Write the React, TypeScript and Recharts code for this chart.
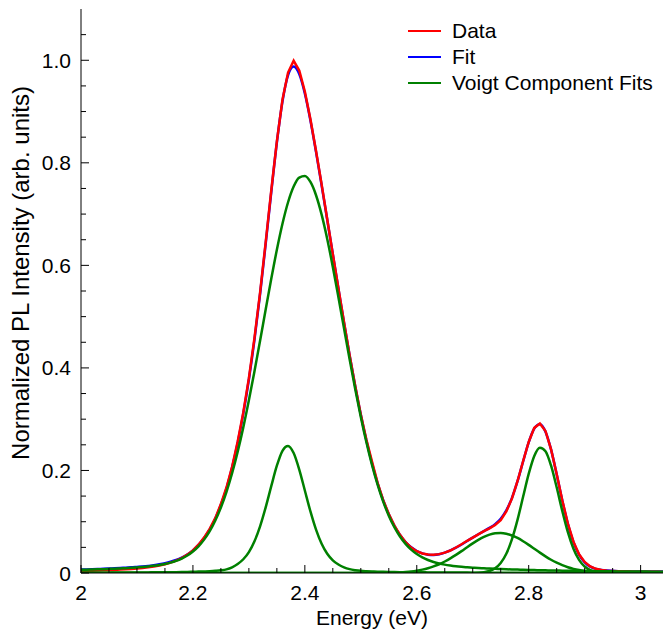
import React from 'react';
import { LineChart, Line, XAxis, YAxis } from 'recharts';

const energy = [
  2.00, 2.01, 2.02, 2.03, 2.04, 2.05, 2.06, 2.07, 2.08, 2.09,
  2.10, 2.11, 2.12, 2.13, 2.14, 2.15, 2.16, 2.17, 2.18, 2.19,
  2.20, 2.21, 2.22, 2.23, 2.24, 2.25, 2.26, 2.27, 2.28, 2.29,
  2.30, 2.31, 2.32, 2.33, 2.34, 2.35, 2.36, 2.37, 2.38, 2.39,
  2.40, 2.41, 2.42, 2.43, 2.44, 2.45, 2.46, 2.47, 2.48, 2.49,
  2.50, 2.51, 2.52, 2.53, 2.54, 2.55, 2.56, 2.57, 2.58, 2.59,
  2.60, 2.61, 2.62, 2.63, 2.64, 2.65, 2.66, 2.67, 2.68, 2.69,
  2.70, 2.71, 2.72, 2.73, 2.74, 2.75, 2.76, 2.77, 2.78, 2.79,
  2.80, 2.81, 2.82, 2.83, 2.84, 2.85, 2.86, 2.87, 2.88, 2.89,
  2.90, 2.91, 2.92, 2.93, 2.94, 2.95, 2.96, 2.97, 2.98, 2.99,
  3.00, 3.01, 3.02, 3.03, 3.04,
];

const measured = [
  0.0040, 0.0042, 0.0045, 0.0047, 0.0052, 0.0056, 0.0060, 0.0066, 0.0072, 0.0080,
  0.0088, 0.0098, 0.0110, 0.0126, 0.0148, 0.0172, 0.0203, 0.0242, 0.0292, 0.0358,
  0.0440, 0.0552, 0.0690, 0.0862, 0.1070, 0.1345, 0.1668, 0.2070, 0.2565, 0.3130,
  0.3800, 0.4585, 0.5470, 0.6450, 0.7460, 0.8420, 0.9230, 0.9760, 0.9990, 0.9800,
  0.9390, 0.8850, 0.8230, 0.7580, 0.6900, 0.6220, 0.5550, 0.4890, 0.4250, 0.3650,
  0.3090, 0.2600, 0.2175, 0.1760, 0.1420, 0.1150, 0.0925, 0.0745, 0.0600, 0.0495,
  0.0425, 0.0380, 0.0362, 0.0358, 0.0368, 0.0398, 0.0438, 0.0497, 0.0560, 0.0628,
  0.0690, 0.0752, 0.0815, 0.0870, 0.0935, 0.1030, 0.1200, 0.1450, 0.1790, 0.2180,
  0.2555, 0.2830, 0.2915, 0.2770, 0.2410, 0.1930, 0.1420, 0.0965, 0.0610, 0.0365,
  0.0215, 0.0128, 0.0082, 0.0058, 0.0046, 0.0040, 0.0034, 0.0030, 0.0028, 0.0026,
  0.0025, 0.0024, 0.0023, 0.0022, 0.0021,
];

const fitted = [
  0.0067, 0.0070, 0.0074, 0.0078, 0.0082, 0.0087, 0.0092, 0.0097, 0.0104, 0.0110,
  0.0119, 0.0128, 0.0139, 0.0153, 0.0170, 0.0191, 0.0218, 0.0253, 0.0300, 0.0361,
  0.0442, 0.0547, 0.0681, 0.0850, 0.1065, 0.1330, 0.1653, 0.2055, 0.2540, 0.3108,
  0.3775, 0.4553, 0.5441, 0.6418, 0.7431, 0.8396, 0.9195, 0.9710, 0.9877, 0.9730,
  0.9353, 0.8827, 0.8214, 0.7560, 0.6890, 0.6216, 0.5545, 0.4882, 0.4245, 0.3643,
  0.3086, 0.2584, 0.2138, 0.1749, 0.1419, 0.1145, 0.0921, 0.0742, 0.0604, 0.0501,
  0.0429, 0.0382, 0.0358, 0.0353, 0.0367, 0.0397, 0.0440, 0.0494, 0.0556, 0.0625,
  0.0691, 0.0755, 0.0818, 0.0880, 0.0953, 0.1058, 0.1220, 0.1461, 0.1790, 0.2175,
  0.2548, 0.2819, 0.2902, 0.2757, 0.2406, 0.1926, 0.1415, 0.0958, 0.0601, 0.0358,
  0.0208, 0.0124, 0.0080, 0.0058, 0.0047, 0.0042, 0.0036, 0.0034, 0.0032, 0.0031,
  0.0031, 0.0030, 0.0029, 0.0028, 0.0027,
];

const voigtA = [
  0.0062, 0.0065, 0.0068, 0.0072, 0.0075, 0.0080, 0.0084, 0.0089, 0.0095, 0.0101,
  0.0109, 0.0117, 0.0127, 0.0140, 0.0156, 0.0176, 0.0202, 0.0236, 0.0281, 0.0340,
  0.0419, 0.0520, 0.0651, 0.0815, 0.1023, 0.1278, 0.1583, 0.1945, 0.2365, 0.2840,
  0.3367, 0.3934, 0.4530, 0.5138, 0.5737, 0.6304, 0.6811, 0.7231, 0.7538, 0.7713,
  0.7743, 0.7626, 0.7368, 0.6990, 0.6515, 0.5969, 0.5380, 0.4772, 0.4170, 0.3588,
  0.3044, 0.2549, 0.2107, 0.1722, 0.1393, 0.1119, 0.0894, 0.0712, 0.0568, 0.0456,
  0.0370, 0.0303, 0.0253, 0.0214, 0.0185, 0.0163, 0.0146, 0.0132, 0.0121, 0.0112,
  0.0104, 0.0097, 0.0092, 0.0086, 0.0081, 0.0077, 0.0073, 0.0069, 0.0066, 0.0063,
  0.0060, 0.0057, 0.0055, 0.0052, 0.0050, 0.0048, 0.0046, 0.0044, 0.0042, 0.0041,
  0.0039, 0.0038, 0.0036, 0.0035, 0.0034, 0.0033, 0.0031, 0.0030, 0.0029, 0.0028,
  0.0028, 0.0027, 0.0026, 0.0025, 0.0024,
];

const voigtB = [
  0.0005, 0.0005, 0.0006, 0.0006, 0.0007, 0.0007, 0.0008, 0.0008, 0.0009, 0.0009,
  0.0010, 0.0011, 0.0012, 0.0013, 0.0014, 0.0015, 0.0016, 0.0017, 0.0019, 0.0021,
  0.0023, 0.0027, 0.0030, 0.0035, 0.0042, 0.0052, 0.0070, 0.0110, 0.0175, 0.0268,
  0.0408, 0.0619, 0.0911, 0.1280, 0.1694, 0.2092, 0.2384, 0.2479, 0.2339, 0.2017,
  0.1610, 0.1201, 0.0846, 0.0570, 0.0375, 0.0247, 0.0165, 0.0110, 0.0075, 0.0055,
  0.0042, 0.0035, 0.0030, 0.0026, 0.0023, 0.0021, 0.0019, 0.0017, 0.0016, 0.0015,
  0.0014, 0.0013, 0.0012, 0.0011, 0.0011, 0.0010, 0.0009, 0.0009, 0.0008, 0.0008,
  0.0007, 0.0007, 0.0007, 0.0007, 0.0006, 0.0006, 0.0006, 0.0006, 0.0006, 0.0006,
  0.0005, 0.0005, 0.0005, 0.0005, 0.0005, 0.0005, 0.0005, 0.0005, 0.0004, 0.0004,
  0.0004, 0.0004, 0.0004, 0.0004, 0.0004, 0.0004, 0.0003, 0.0003, 0.0003, 0.0003,
  0.0003, 0.0003, 0.0003, 0.0003, 0.0003,
];

const voigtC = [
  0, 0, 0, 0, 0, 0, 0, 0, 0, 0,
  0, 0, 0, 0, 0, 0, 0, 0, 0, 0,
  0, 0, 0, 0, 0, 0, 0, 0, 0, 0,
  0, 0, 0, 0, 0, 0, 0, 0, 0, 0,
  0, 0, 0, 0, 0, 0, 0, 0, 0, 0,
  0.0000, 0.0001, 0.0001, 0.0002, 0.0003, 0.0005, 0.0008, 0.0013, 0.0020, 0.0030,
  0.0045, 0.0066, 0.0093, 0.0128, 0.0171, 0.0224, 0.0285, 0.0353, 0.0427, 0.0504,
  0.0578, 0.0646, 0.0704, 0.0748, 0.0774, 0.0780, 0.0766, 0.0732, 0.0683, 0.0620,
  0.0549, 0.0473, 0.0397, 0.0325, 0.0259, 0.0202, 0.0153, 0.0113, 0.0081, 0.0057,
  0.0039, 0.0026, 0.0017, 0.0011, 0.0006, 0.0004, 0.0002, 0.0001, 0, 0,
  0, 0, 0, 0, 0,
];

const voigtD = [
  0, 0, 0, 0, 0, 0, 0, 0, 0, 0,
  0, 0, 0, 0, 0, 0, 0, 0, 0, 0,
  0, 0, 0, 0, 0, 0, 0, 0, 0, 0,
  0, 0, 0, 0, 0, 0, 0, 0, 0, 0,
  0, 0, 0, 0, 0, 0, 0, 0, 0, 0,
  0, 0, 0, 0, 0, 0, 0, 0, 0, 0,
  0, 0, 0, 0, 0, 0, 0, 0, 0, 0.0001,
  0.0002, 0.0005, 0.0015, 0.0039, 0.0092, 0.0195, 0.0375, 0.0654, 0.1035, 0.1486,
  0.1934, 0.2284, 0.2445, 0.2375, 0.2092, 0.1671, 0.1211, 0.0796, 0.0474, 0.0256,
  0.0126, 0.0056, 0.0023, 0.0008, 0.0003, 0.0001, 0, 0, 0, 0,
  0, 0, 0, 0, 0,
];

const xTicks = [
  2.0, 2.05, 2.1, 2.15, 2.2, 2.25, 2.3, 2.35, 2.4, 2.45,
  2.5, 2.55, 2.6, 2.65, 2.7, 2.75, 2.8, 2.85, 2.9, 2.95, 3.0,
];
const yTicks = [
  0, 0.05, 0.1, 0.15, 0.2, 0.25, 0.3, 0.35, 0.4, 0.45, 0.5,
  0.55, 0.6, 0.65, 0.7, 0.75, 0.8, 0.85, 0.9, 0.95, 1.0, 1.05,
];

const legendItems = [
  { label: 'Data', color: '#ff0000' },
  { label: 'Fit', color: '#0000ff' },
  { label: 'Voigt Component Fits', color: '#008000' },
];

const rows = energy.map((x, i) => ({
  x,
  data: measured[i],
  fit: fitted[i],
  v1: voigtA[i],
  v2: voigtB[i],
  v3: voigtC[i],
  v4: voigtD[i],
}));

const FONT = '"Liberation Sans", Arial, Helvetica, sans-serif';
const FS = 21;
const MAJOR = 8;
const MINOR = 5;

const isMajor = (v: number) => Math.abs(v / 0.2 - Math.round(v / 0.2)) < 1e-6;
const fmtX = (v: number) => String(Math.round(v * 10) / 10);
const fmtY = (v: number) => (Math.abs(v) < 1e-9 ? '0' : v.toFixed(1));

const LeftTick = (p: any) => {
  const { x, y, payload } = p;
  const m = isMajor(payload.value);
  return (
    <g>
      <line x1={x} x2={x + (m ? MAJOR : MINOR)} y1={y} y2={y} stroke="#000" strokeWidth={1} />
      {m && (
        <text x={x - 10} y={y + 7.5} textAnchor="end" fontSize={FS} fontFamily={FONT} fill="#000">
          {fmtY(payload.value)}
        </text>
      )}
    </g>
  );
};

const RightTick = (p: any) => {
  const { x, y, payload } = p;
  const m = isMajor(payload.value);
  return <line x1={x} x2={x - (m ? MAJOR : MINOR)} y1={y} y2={y} stroke="#000" strokeWidth={1} />;
};

const BottomTick = (p: any) => {
  const { x, y, payload } = p;
  const m = isMajor(payload.value);
  return (
    <g>
      <line x1={x} x2={x} y1={y} y2={y - (m ? MAJOR : MINOR)} stroke="#000" strokeWidth={1} />
      {m && (
        <text x={x} y={y + 27} textAnchor="middle" fontSize={FS} fontFamily={FONT} fill="#000">
          {fmtX(payload.value)}
        </text>
      )}
    </g>
  );
};

const TopTick = (p: any) => {
  const { x, y, payload } = p;
  const m = isMajor(payload.value);
  return <line x1={x} x2={x} y1={y} y2={y + (m ? MAJOR : MINOR)} stroke="#000" strokeWidth={1} />;
};

const XTitle = (p: any) => {
  const vb = p.viewBox;
  return (
    <text x={vb.x + vb.width / 2} y={vb.y + 52} textAnchor="middle" fontSize={FS} fontFamily={FONT} fill="#000">
      Energy (eV)
    </text>
  );
};

const YTitle = (p: any) => {
  const vb = p.viewBox;
  const cx = vb.x + 29;
  const cy = vb.y + vb.height / 2 - 18;
  return (
    <text
      x={cx}
      y={cy}
      transform={`rotate(-90, ${cx}, ${cy})`}
      textAnchor="middle"
      fontSize={24}
      fontFamily={FONT}
      fill="#000"
    >
      Normalized PL Intensity (arb. units)
    </text>
  );
};

export default function App() {
  return (
    <div style={{ position: 'absolute', left: 0, top: 0, width: 664, height: 637, background: '#fff', fontFamily: FONT }}>
      <LineChart width={664} height={637} data={rows} margin={{ top: 9, right: 1, bottom: 0, left: 0 }}>
        <XAxis
          xAxisId="b"
          orientation="bottom"
          type="number"
          dataKey="x"
          domain={[2, 3.04]}
          allowDataOverflow
          ticks={xTicks}
          interval={0}
          tickSize={0}
          tickMargin={0}
          tick={(p: any) => <BottomTick {...p} />}
          height={64}
          axisLine={{ stroke: '#000', strokeWidth: 1 }}
          label={{ content: (p: any) => <XTitle {...p} /> }}
        />
        <XAxis
          xAxisId="t"
          orientation="top"
          type="number"
          dataKey="x"
          domain={[2, 3.04]}
          allowDataOverflow
          ticks={xTicks}
          interval={0}
          tickSize={0}
          tickMargin={0}
          tick={(p: any) => <TopTick {...p} />}
          height={0}
          axisLine={{ stroke: '#000', strokeWidth: 1 }}
        />
        <YAxis
          yAxisId="l"
          orientation="left"
          type="number"
          domain={[0, 1.1]}
          allowDataOverflow
          ticks={yTicks}
          interval={0}
          tickSize={0}
          tickMargin={0}
          tick={(p: any) => <LeftTick {...p} />}
          width={81}
          axisLine={{ stroke: '#000', strokeWidth: 1 }}
          label={{ content: (p: any) => <YTitle {...p} /> }}
        />
        <YAxis
          yAxisId="r"
          orientation="right"
          type="number"
          domain={[0, 1.1]}
          allowDataOverflow
          ticks={yTicks}
          interval={0}
          tickSize={0}
          tickMargin={0}
          tick={(p: any) => <RightTick {...p} />}
          width={0}
          axisLine={{ stroke: '#000', strokeWidth: 1 }}
        />
        <Line xAxisId="b" yAxisId="l" dataKey="fit" type="monotone" stroke="#0000ff" strokeWidth={2.5} dot={false} isAnimationActive={false} />
        <Line xAxisId="b" yAxisId="l" dataKey="data" type="linear" stroke="#ff0000" strokeWidth={2.5} dot={false} isAnimationActive={false} />
        <Line xAxisId="b" yAxisId="l" dataKey="v1" type="monotone" stroke="#008000" strokeWidth={2.5} dot={false} isAnimationActive={false} />
        <Line xAxisId="b" yAxisId="l" dataKey="v2" type="monotone" stroke="#008000" strokeWidth={2.5} dot={false} isAnimationActive={false} />
        <Line xAxisId="b" yAxisId="l" dataKey="v3" type="monotone" stroke="#008000" strokeWidth={2.5} dot={false} isAnimationActive={false} />
        <Line xAxisId="b" yAxisId="l" dataKey="v4" type="monotone" stroke="#008000" strokeWidth={2.5} dot={false} isAnimationActive={false} />
      </LineChart>
      <div style={{ position: 'absolute', left: 408, top: 18 }}>
        {legendItems.map((it) => (
          <div key={it.label} style={{ display: 'flex', alignItems: 'center', height: 26 }}>
            <div style={{ width: 33, height: 2.5, background: it.color, marginRight: 11 }} />
            <span style={{ fontSize: FS, lineHeight: '26px', color: '#000', fontFamily: FONT, whiteSpace: 'nowrap' }}>{it.label}</span>
          </div>
        ))}
      </div>
    </div>
  );
}
